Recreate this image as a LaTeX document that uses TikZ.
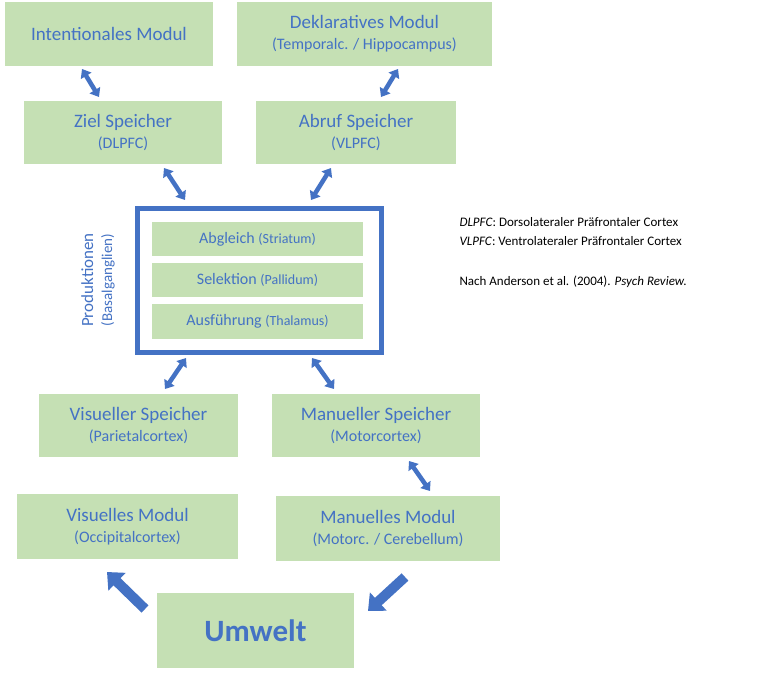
\documentclass[tikz,border=0pt]{standalone}
\usepackage{fontspec}
\setmainfont{Carlito}
\usetikzlibrary{arrows.meta}
\definecolor{gfill}{HTML}{C5E0B4}
\definecolor{tblue}{HTML}{4472C4}
\newcommand{\smf}{\fontsize{16}{19}\selectfont}
\begin{document}
\begin{tikzpicture}[x=1pt,y=-1pt,
  box/.style={fill=gfill,draw=none,text=tblue,align=center,font=\fontsize{19}{23}\selectfont,inner sep=0},
  ibox/.style={fill=gfill,draw=none,text=tblue,align=center,font=\fontsize{16}{19}\selectfont,inner sep=0},
  darr/.style={line width=4.5pt,tblue,{Triangle[width=12pt,length=8pt]}-{Triangle[width=12pt,length=8pt]}},
  sarr/.style={line width=10pt,tblue,-{Triangle[width=24pt,length=14pt]}}]
\useasboundingbox (0,0) rectangle (765,679);
\fill[white] (0,0) rectangle (765,679);
\newcommand{\bx}[6]{\node[#6,minimum width=#3-#1,minimum height=#4-#2] (#5) at ({(#1+#3)/2},{(#2+#4)/2})}
\bx{5}{2}{213}{66}{im}{box} {Intentionales Modul};
\bx{237}{2}{492}{66}{dm}{box} {Deklaratives Modul\\[-2pt]{\smf(Temporalc. / Hippocampus)}};
\bx{24}{101}{222}{164}{zs}{box} {Ziel Speicher\\[-2pt]{\smf(DLPFC)}};
\bx{256}{101}{456}{164}{as}{box} {Abruf Speicher\\[-2pt]{\smf(VLPFC)}};
\bx{39}{394}{238}{457}{vs}{box} {Visueller Speicher\\[-2pt]{\smf(Parietalcortex)}};
\bx{272}{394}{480}{457}{ms}{box} {Manueller Speicher\\[-2pt]{\smf(Motorcortex)}};
\bx{17}{494}{238}{559}{vm}{box} {Visuelles Modul\\[-2pt]{\smf(Occipitalcortex)}};
\bx{276}{496}{500}{561}{mm}{box} {Manuelles Modul\\[-2pt]{\smf(Motorc. / Cerebellum)}};
\bx{157}{593}{354}{668}{uw}{box} {\fontsize{31}{36}\selectfont\bfseries Umwelt};
\bx{137}{208}{381}{352}{pr}{draw=tblue,line width=5pt,fill=white,inner sep=0} {};
\bx{152}{222}{363}{256}{ab}{ibox} {Abgleich {\fontsize{14}{17}\selectfont(Striatum)}};
\bx{152}{263}{363}{297}{se}{ibox} {Selektion {\fontsize{14}{17}\selectfont(Pallidum)}};
\bx{152}{304}{363}{339}{au}{ibox} {Ausführung {\fontsize{14}{17}\selectfont(Thalamus)}};
\node[rotate=90,text=tblue,align=center,font=\fontsize{17}{19}\selectfont] (pl) at (98,280) {Produktionen\\{\fontsize{15}{17}\selectfont(Basalganglien)}};
\node[anchor=west,align=left,font=\fontsize{13}{19}\selectfont] (n1) at (456,232) {\textit{DLPFC}: Dorsolateraler Präfrontaler Cortex\\\textit{VLPFC}: Ventrolateraler Präfrontaler Cortex};
\node[anchor=west,font=\fontsize{13}{16}\selectfont] (n2) at (456,282) {Nach Anderson et al. (2004). \textit{Psych Review.}};
\coordinate (a1) at (82,69); \coordinate (a2) at (99,97);
\coordinate (b1) at (398,69); \coordinate (b2) at (381,97);
\coordinate (c1) at (164,168); \coordinate (c2) at (185,200);
\coordinate (d1) at (331,168); \coordinate (d2) at (311,200);
\coordinate (e1) at (186,358); \coordinate (e2) at (165,389);
\coordinate (f1) at (312,358); \coordinate (f2) at (334,389);
\coordinate (g1) at (409,461); \coordinate (g2) at (430,491);
\coordinate (h1) at (145,609); \coordinate (h2) at (107,572);
\coordinate (k1) at (405,577); \coordinate (k2) at (368,611);
\foreach \p/\q in {a1/a2,b1/b2,c1/c2,d1/d2,e1/e2,f1/f2,g1/g2}
  \draw[darr] (\p) -- (\q);
\draw[sarr] (h1) -- (h2);
\draw[sarr] (k1) -- (k2);
\end{tikzpicture}
\end{document}
